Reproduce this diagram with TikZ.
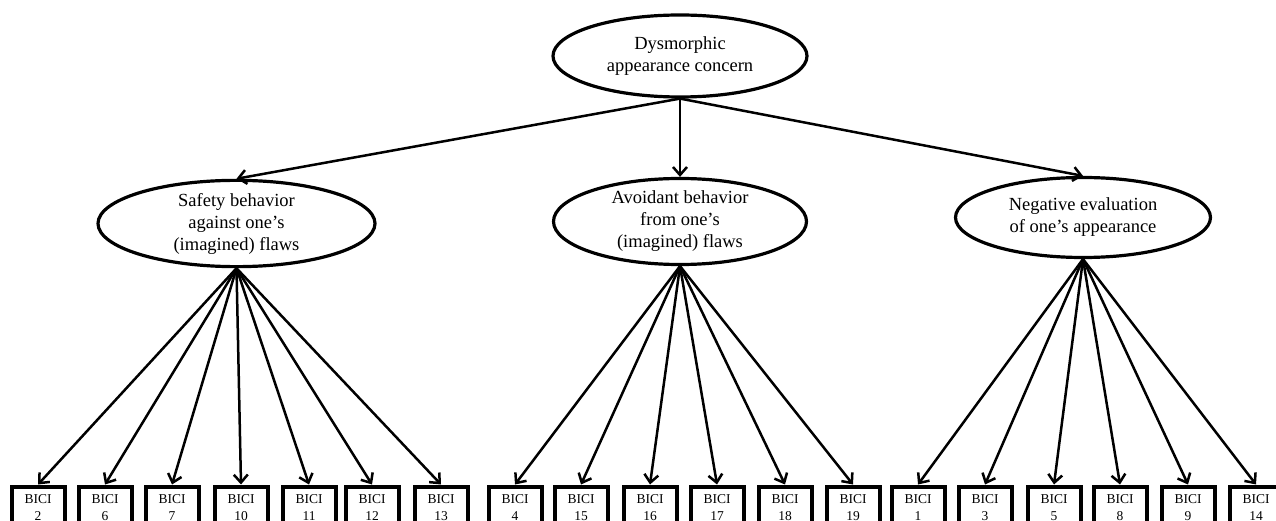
\documentclass[tikz,border=0pt]{standalone}
\usepackage{fontspec}
\setmainfont{Liberation Serif}
\usetikzlibrary{shapes.geometric,arrows.meta}
\begin{document}
\begin{tikzpicture}[x=1pt,y=-1pt,
  latent/.style={draw,ellipse,line width=3.2pt,inner sep=0pt,align=center,
     font=\fontsize{18.5}{22}\selectfont},
  item/.style={draw,rectangle,line width=4pt,minimum width=53pt,minimum height=42pt,
     inner sep=0pt,align=center,font=\fontsize{13.5}{17}\selectfont},
  path/.style={line width=2.5pt,-{Straight Barb[length=8pt,width=14pt,line width=2.5pt]}}]
\useasboundingbox (0,0) rectangle (1276,521);
\clip (0,0) rectangle (1276,521);
\node[latent,minimum width=254pt,minimum height=82pt] (top) at (680,56) {Dysmorphic\\appearance concern};
\node[latent,minimum width=277pt,minimum height=83pt] (f1) at (236.5,223.5) {Safety behavior\\against one’s\\(imagined) flaws};
\node[latent,minimum width=253pt,minimum height=82pt] (f2) at (680,221.5) {Avoidant behavior\\from one’s\\(imagined) flaws};
\node[latent,minimum width=255pt,minimum height=80pt] (f3) at (1083,217.5) {Negative evaluation\\of one’s appearance};
\draw[path] (top.south) -- (f1.north);
\draw[path] (top.south) -- (f2.north);
\draw[path] (top.south) -- (f3.north);
\foreach \n/\x in {2/38,6/105,7/172,10/241,11/309,12/372,13/441}{
  \node[item] (b\n) at (\x,507.5) {BICI\\\n};
  \draw[path] (f1.south) -- (b\n.north);
}
\foreach \n/\x in {4/515,15/581,16/650,17/717,18/785,19/853}{
  \node[item] (b\n) at (\x,507.5) {BICI\\\n};
  \draw[path] (f2.south) -- (b\n.north);
}
\foreach \n/\x in {1/918,3/985,5/1054,8/1120,9/1188,14/1256}{
  \node[item] (b\n) at (\x,507.5) {BICI\\\n};
  \draw[path] (f3.south) -- (b\n.north);
}
\end{tikzpicture}
\end{document}
